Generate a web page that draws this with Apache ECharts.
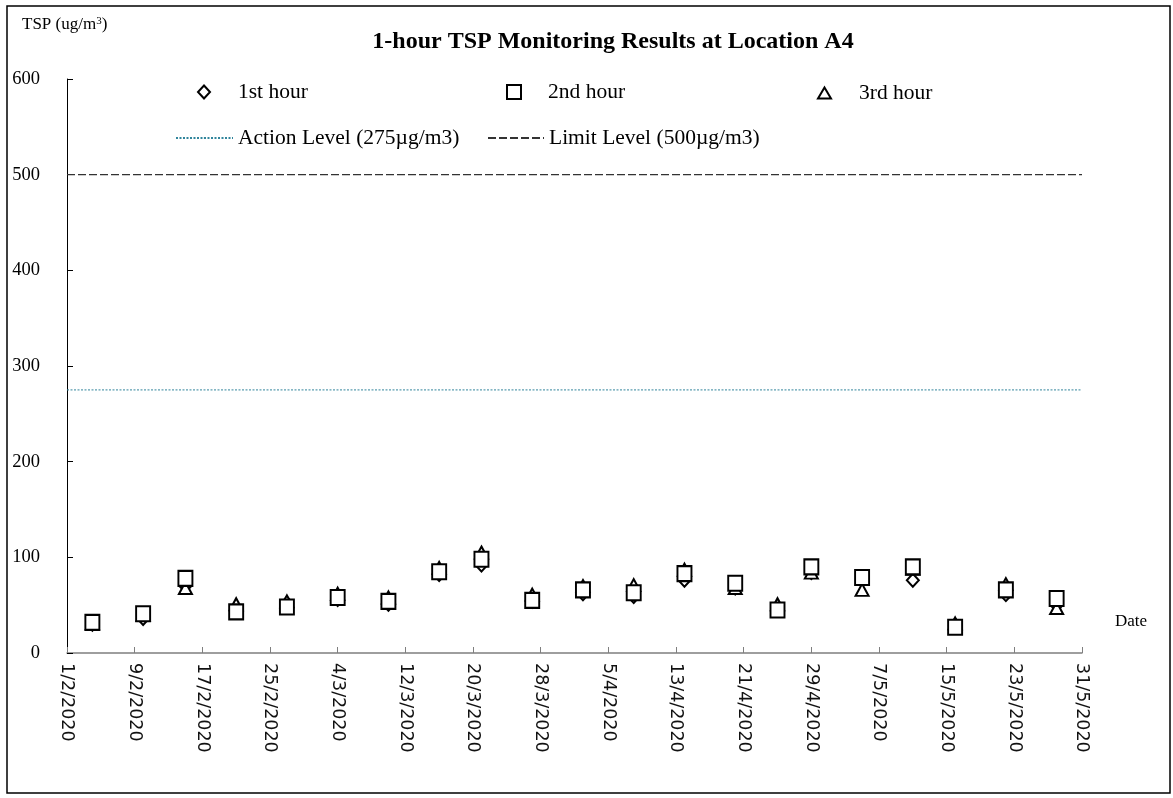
<!DOCTYPE html>
<html>
<head>
<meta charset="utf-8">
<script src="https://cdn.jsdelivr.net/npm/echarts@6/dist/echarts.min.js"></script>
<style>html,body{margin:0;padding:0;background:#fff}#c{width:1173px;height:798px}</style>
</head>
<body>
<div id="c"></div>
<script>
// ---- data ----
var dates = ['2020-02-04','2020-02-10','2020-02-15','2020-02-21','2020-02-27','2020-03-04','2020-03-10',
  '2020-03-16','2020-03-21','2020-03-27','2020-04-02','2020-04-08','2020-04-14','2020-04-20','2020-04-25',
  '2020-04-29','2020-05-05','2020-05-11','2020-05-16','2020-05-22','2020-05-28'];
var hour1 = [30, 36, 70, 45, 52, 56, 51, 82, 92, 54, 62, 59, 76, 68, 47, 84, 76, 76, 29, 61, 50];
var hour2 = [32, 41, 78, 43, 48, 58, 54, 85, 98, 55, 66, 63, 83, 73, 45, 90, 79, 90, 27, 66, 57];
var hour3 = [31, 40, 68, 51, 54, 62, 58, 89, 105, 61, 70, 71, 87, 68, 51, 84, 66, 88, 31, 72, 47];
var actionLevel = 275;
var limitLevel = 500;
var axisStart = '2020-02-01';
var axisEnd = '2020-05-31';
var tickDays = 8;
var yTicks = [0, 100, 200, 300, 400, 500, 600];

// ---- helpers ----
var DAY = 86400000;
var t0 = Date.parse(axisStart + 'T00:00:00Z');
function dayIdx(s){ return Math.round((Date.parse(s + 'T00:00:00Z') - t0) / DAY); }
function fmt(d){ var dt = new Date(t0 + d * DAY); return dt.getUTCDate() + '/' + (dt.getUTCMonth()+1) + '/' + dt.getUTCFullYear(); }
function pairs(vals){ return dates.map(function(d,i){ return [dayIdx(d), vals[i]]; }); }
var xMax = dayIdx(axisEnd);

var serif = 'Liberation Serif';
function leg(item, left, top, w, h, padLeft){
  return {data:[item], left:left, top:top, itemWidth:w, itemHeight:h, selectedMode:false, padding:0,
    textStyle:{fontFamily:serif, fontSize:21.5, color:'#000', padding:[0,0,0,padLeft]}};
}
var mk = {color:'#fff', borderColor:'#000', borderWidth:2, opacity:1};

var chart = echarts.init(document.getElementById('c'));
chart.setOption({
  animation:false,
  backgroundColor:'#fff',
  title:{text:'1-hour TSP Monitoring Results at Location A4', left:608, textAlign:'center', top:25,
    textStyle:{fontFamily:serif, fontSize:24, fontWeight:'bold', color:'#000'}},
  graphic:[
    {type:'rect', shape:{x:7,y:6,width:1163,height:787}, style:{fill:'none', stroke:'#000', lineWidth:1.5}, silent:true},
    {type:'text', left:22, top:16, style:{text:'TSP (ug/m{s|3})', font:'17px "Liberation Serif"', fill:'#000',
      rich:{s:{fontSize:11, fontFamily:serif, verticalAlign:'top', padding:[0,0,7,0]}}}},
    {type:'text', left:1115, top:613, style:{text:'Date', font:'17px "Liberation Serif"', fill:'#000'}}
  ],
  legend:[
    leg({name:'1st hour', icon:'diamond'}, 197, 81, 12, 13, 23),
    leg({name:'2nd hour', icon:'rect'}, 506, 81, 14, 14, 22),
    leg({name:'3rd hour', icon:'triangle'}, 817, 82, 13, 11, 23),
    leg('Action Level (275µg/m3)', 175, 127, 57, 2, 0),
    leg('Limit Level (500µg/m3)', 487, 127, 56, 2, 0)
  ],
  grid:{left:67, right:91, top:79, bottom:145},
  xAxis:{type:'value', min:0, max:xMax, interval:tickDays,
    axisLine:{lineStyle:{color:'#7f7f7f', width:1.5}},
    axisTick:{inside:true, length:6, lineStyle:{color:'#7f7f7f'}},
    splitLine:{show:false},
    axisLabel:{rotate:-90, margin:10, fontFamily:'DejaVu Sans', fontSize:17.5, color:'#111',
      showMinLabel:true, showMaxLabel:true, formatter:function(v){ return fmt(v); }}
  },
  yAxis:{type:'value', min:yTicks[0], max:yTicks[yTicks.length-1], interval:yTicks[1]-yTicks[0],
    axisLine:{show:true, lineStyle:{color:'#000', width:1}},
    axisTick:{show:true, inside:true, length:6, lineStyle:{color:'#000'}},
    splitLine:{show:false},
    axisLabel:{margin:27, fontFamily:serif, fontSize:18.5, color:'#000'}
  },
  series:[
    {name:'Action Level (275µg/m3)', type:'line', symbol:'none', silent:true, z:1,
      data:[[0, actionLevel],[xMax, actionLevel]], lineStyle:{color:'#31859C', width:1, type:[2,1.5]}, itemStyle:{color:'#31859C'}},
    {name:'Limit Level (500µg/m3)', type:'line', symbol:'none', silent:true, z:1,
      data:[[0, limitLevel],[xMax, limitLevel]], lineStyle:{color:'#333', width:1.3, type:[8,3]}, itemStyle:{color:'#333'}},
    {name:'1st hour', type:'scatter', symbol:'diamond', symbolSize:[12,13], data:pairs(hour1), itemStyle:mk, z:2},
    {name:'3rd hour', type:'scatter', symbol:'triangle', symbolSize:[13,12], data:pairs(hour3), itemStyle:mk, z:3},
    {name:'2nd hour', type:'scatter', symbol:'rect', symbolSize:[14,15], data:pairs(hour2), itemStyle:mk, z:4}
  ]
});
</script>
</body>
</html>
